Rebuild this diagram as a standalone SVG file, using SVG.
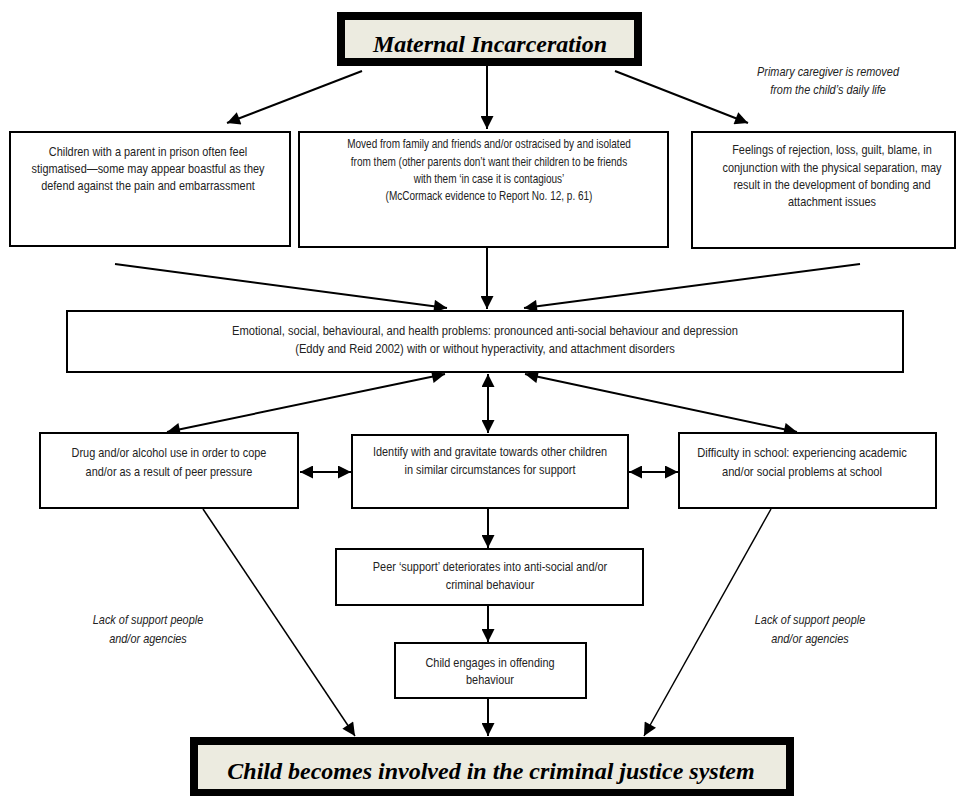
<svg xmlns="http://www.w3.org/2000/svg" width="963" height="796" viewBox="0 0 963 796">
<style>
.box{fill:#fff;stroke:#000;stroke-width:2}
.big{fill:#ECEBE0;stroke:#000;stroke-width:8}
.t{font-family:"Liberation Sans",Arial,sans-serif;font-size:13px;fill:#222;text-anchor:middle}
.it{font-style:italic}
.h{font-family:"Liberation Serif","Times New Roman",serif;font-size:24px;font-weight:bold;font-style:italic;fill:#000;text-anchor:middle}
.c{stroke:#000;stroke-width:2;fill:none;marker-end:url(#ah)}
.d{stroke:#000;stroke-width:2;fill:none;marker-start:url(#ah);marker-end:url(#ah)}
.thin{stroke-width:1.5}
</style>
<defs>
<marker id="ah" viewBox="0 0 10 10" refX="10" refY="5" markerWidth="15" markerHeight="13" markerUnits="userSpaceOnUse" orient="auto-start-reverse">
<path d="M0,0 L10,5 L0,10 z" fill="#000"/>
</marker>
</defs>
<rect width="963" height="796" fill="#fff"/>

<g id="connectors">
<line class="c" x1="362" y1="71" x2="227" y2="123"/>
<line class="c" x1="487" y1="66" x2="487" y2="129"/>
<line class="c" x1="615" y1="71" x2="748" y2="123"/>
<line class="c" x1="115" y1="264" x2="447" y2="308"/>
<line class="c" x1="487" y1="247" x2="487" y2="309"/>
<line class="c" x1="860" y1="264" x2="524" y2="308"/>
<line class="d" x1="445" y1="374" x2="167" y2="432"/>
<line class="d" x1="488" y1="374" x2="488" y2="433"/>
<line class="d" x1="525" y1="374" x2="797" y2="432"/>
<line class="d" x1="300" y1="472" x2="351" y2="472"/>
<line class="d" x1="629" y1="472" x2="678" y2="472"/>
<line class="c" x1="488" y1="509" x2="488" y2="548"/>
<line class="c" x1="488" y1="606" x2="488" y2="642"/>
<line class="c" x1="488" y1="699" x2="488" y2="736"/>
<line class="c thin" x1="203" y1="509" x2="355" y2="736"/>
<line class="c thin" x1="771" y1="509" x2="644" y2="736"/>
</g>

<g id="maternal">
<rect class="big" x="341" y="16" width="297" height="46"/>
<text class="h" x="490" y="52">Maternal Incarceration</text>
</g>

<g id="caregiver-label">
<g transform="translate(828 0) scale(0.84 1) translate(-828 0)">
<text class="t it" x="828" y="76">Primary caregiver is removed</text>
<text class="t it" x="828" y="94">from the child’s daily life</text>
</g>
</g>

<g id="stigmatised">
<rect class="box" x="10" y="132" width="280" height="114"/>
<g transform="translate(148 0) scale(0.84 1) translate(-148 0)">
<text class="t" x="148" y="156">Children with a parent in prison often feel</text>
<text class="t" x="148" y="173">stigmatised—some may appear boastful as they</text>
<text class="t" x="148" y="190">defend against the pain and embarrassment</text>
</g>
</g>

<g id="moved">
<rect class="box" x="299" y="132" width="369" height="115"/>
<g transform="translate(489 0) scale(0.77 1) translate(-489 0)">
<text class="t" x="489" y="148">Moved from family and friends and/or ostracised by and isolated</text>
<text class="t" x="489" y="166">from them (other parents don’t want their children to be friends</text>
<text class="t" x="489" y="183">with them ‘in case it is contagious’</text>
<text class="t" x="489" y="200">(McCormack evidence to Report No. 12, p. 61)</text>
</g>
</g>

<g id="feelings">
<rect class="box" x="692" y="132" width="263" height="116"/>
<g transform="translate(832 0) scale(0.84 1) translate(-832 0)">
<text class="t" x="832" y="154">Feelings of rejection, loss, guilt, blame, in</text>
<text class="t" x="832" y="172">conjunction with the physical separation, may</text>
<text class="t" x="832" y="189">result in the development of bonding and</text>
<text class="t" x="832" y="206">attachment issues</text>
</g>
</g>

<g id="emotional">
<rect class="box" x="67" y="311" width="836" height="61"/>
<g transform="translate(485 0) scale(0.86 1) translate(-485 0)">
<text class="t" x="485" y="335">Emotional, social, behavioural, and health problems: pronounced anti-social behaviour and depression</text>
<text class="t" x="485" y="353">(Eddy and Reid 2002) with or without hyperactivity, and attachment disorders</text>
</g>
</g>

<g id="drug">
<rect class="box" x="40" y="433" width="258" height="75"/>
<g transform="translate(169 0) scale(0.84 1) translate(-169 0)">
<text class="t" x="169" y="457">Drug and/or alcohol use in order to cope</text>
<text class="t" x="169" y="476">and/or as a result of peer pressure</text>
</g>
</g>

<g id="identify">
<rect class="box" x="352" y="435" width="276" height="73"/>
<g transform="translate(490 0) scale(0.84 1) translate(-490 0)">
<text class="t" x="490" y="456">Identify with and gravitate towards other children</text>
<text class="t" x="490" y="474">in similar circumstances for support</text>
</g>
</g>

<g id="difficulty">
<rect class="box" x="679" y="433" width="257" height="75"/>
<g transform="translate(802 0) scale(0.86 1) translate(-802 0)">
<text class="t" x="802" y="457">Difficulty in school: experiencing academic</text>
<text class="t" x="802" y="476">and/or social problems at school</text>
</g>
</g>

<g id="peer">
<rect class="box" x="336" y="549" width="307" height="56"/>
<g transform="translate(490 0) scale(0.84 1) translate(-490 0)">
<text class="t" x="490" y="571">Peer ‘support’ deteriorates into anti-social and/or</text>
<text class="t" x="490" y="589">criminal behaviour</text>
</g>
</g>

<g id="offending">
<rect class="box" x="395" y="643" width="191" height="55"/>
<g transform="translate(490 0) scale(0.84 1) translate(-490 0)">
<text class="t" x="490" y="667">Child engages in offending</text>
<text class="t" x="490" y="684">behaviour</text>
</g>
</g>

<g id="lack-left">
<g transform="translate(148 0) scale(0.84 1) translate(-148 0)">
<text class="t it" x="148" y="624">Lack of support people</text>
<text class="t it" x="148" y="643">and/or agencies</text>
</g>
</g>

<g id="lack-right">
<g transform="translate(810 0) scale(0.84 1) translate(-810 0)">
<text class="t it" x="810" y="624">Lack of support people</text>
<text class="t it" x="810" y="643">and/or agencies</text>
</g>
</g>

<g id="criminal-justice">
<rect class="big" x="194" y="741" width="596" height="52"/>
<text class="h" x="491" y="779">Child becomes involved in the criminal justice system</text>
</g>
</svg>
